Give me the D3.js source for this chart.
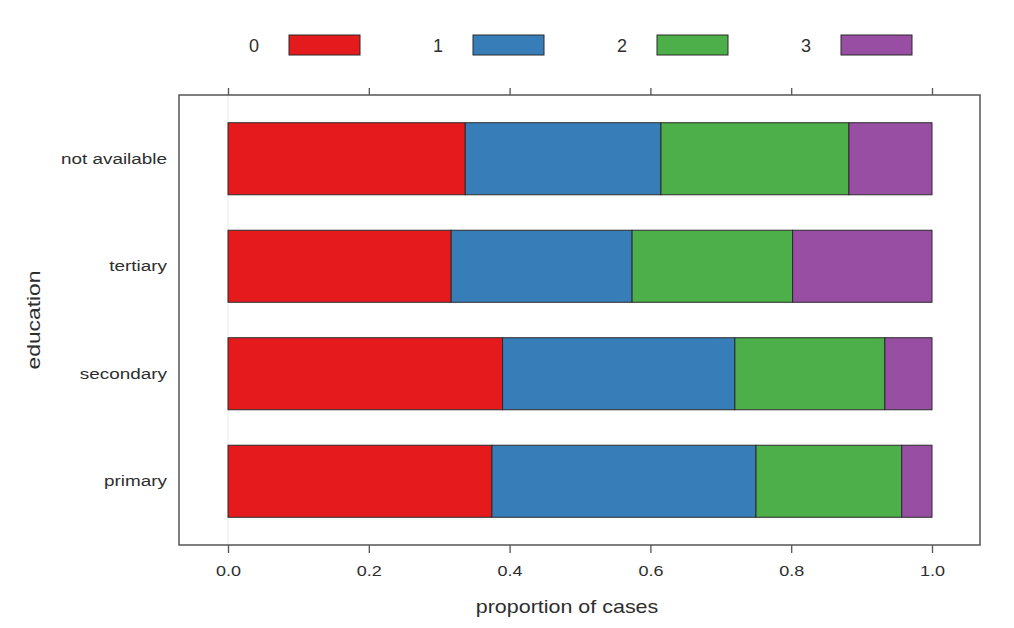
<!DOCTYPE html>
<html>
<head>
<meta charset="utf-8">
<script src="https://cdn.jsdelivr.net/npm/d3@7"></script>
<style>
  html, body { margin: 0; padding: 0; background: #fff; }
  svg { display: block; font-family: "Liberation Sans", Arial, sans-serif; }
</style>
</head>
<body>
<svg id="chart" width="1014" height="628"></svg>
<script>
// Data
const categories = ["primary", "secondary", "tertiary", "not available"];
const seriesKeys = ["0", "1", "2", "3"];
const series0 = [0.375, 0.390, 0.317, 0.337];
const series1 = [0.375, 0.330, 0.257, 0.278];
const series2 = [0.207, 0.213, 0.228, 0.267];
const series3 = [0.043, 0.067, 0.198, 0.118];
const xTicks = [0, 0.2, 0.4, 0.6, 0.8, 1.0];
const colors = ["#E41A1C", "#377EB8", "#4DAF4A", "#984EA3"];

const rows = categories.map((c, i) => ({
  cat: c, "0": series0[i], "1": series1[i], "2": series2[i], "3": series3[i]
}));
const stacked = d3.stack().keys(seriesKeys)(rows);

const svg = d3.select("#chart");
const panel = { left: 179, right: 980, top: 95, bottom: 545 };
const textCol = "#2e2e2e";

const x = d3.scaleLinear().domain([0, 1]).range([228, 932]);
const y = d3.scaleBand().domain(categories.slice().reverse())
  .range([105, 535]).paddingInner(0.33).paddingOuter(0.165);

// faint reference line at 0
svg.append("line")
  .attr("x1", x(0)).attr("x2", x(0))
  .attr("y1", panel.top).attr("y2", panel.bottom)
  .attr("stroke", "#ececec").attr("stroke-width", 1);

// bars
svg.append("g").selectAll("g").data(stacked).join("g")
  .attr("fill", (d, i) => colors[i])
  .selectAll("rect").data(d => d).join("rect")
  .attr("x", d => x(d[0]))
  .attr("width", d => x(d[1]) - x(d[0]))
  .attr("y", d => y(d.data.cat))
  .attr("height", y.bandwidth())
  .attr("stroke", "#2a2a2a").attr("stroke-width", 1);

// panel box
svg.append("rect")
  .attr("x", panel.left).attr("y", panel.top)
  .attr("width", panel.right - panel.left).attr("height", panel.bottom - panel.top)
  .attr("fill", "none").attr("stroke", "#555").attr("stroke-width", 1.5);

// bottom axis
const tickSx = 1.2;
const bottomAxis = d3.axisBottom(x).tickValues(xTicks).tickFormat(d3.format(".1f"))
  .tickSize(8).tickPadding(12);
const gb = svg.append("g").attr("transform", `translate(0,${panel.bottom})`).call(bottomAxis);
gb.select(".domain").remove();
gb.selectAll("line").attr("stroke", "#555").attr("stroke-width", 1.3);
gb.selectAll("text").attr("font-size", 15).attr("fill", textCol)
  .attr("font-family", "Liberation Sans, Arial, sans-serif")
  .attr("transform", `scale(${tickSx},1)`);

// top axis (ticks only)
const topAxis = d3.axisTop(x).tickValues(xTicks).tickSize(7).tickFormat("");
const gt = svg.append("g").attr("transform", `translate(0,${panel.top})`).call(topAxis);
gt.select(".domain").remove();
gt.selectAll("line").attr("stroke", "#555").attr("stroke-width", 1.3);

// y labels
const ySx = 1.26;
const yAxis = d3.axisLeft(y).tickSize(0).tickPadding(12);
const gy = svg.append("g").attr("transform", `translate(${panel.left},0)`).call(yAxis);
gy.select(".domain").remove();
gy.selectAll("text").attr("font-size", 15).attr("fill", textCol)
  .attr("font-family", "Liberation Sans, Arial, sans-serif")
  .attr("x", -12 / ySx)
  .attr("transform", `scale(${ySx},1)`);

// axis titles
svg.append("text")
  .attr("transform", `translate(567,613) scale(1.13,1)`)
  .attr("text-anchor", "middle").attr("font-size", 19).attr("fill", textCol)
  .text("proportion of cases");
svg.append("text")
  .attr("transform", `translate(40,${(panel.top + panel.bottom) / 2}) rotate(-90) scale(1.2,1)`)
  .attr("text-anchor", "middle").attr("font-size", 19).attr("fill", textCol)
  .text("education");

// legend
const legend = svg.append("g").selectAll("g").data(seriesKeys).join("g")
  .attr("transform", (d, i) => `translate(${254 + i * 184},0)`);
legend.append("text").attr("x", 0).attr("y", 52)
  .attr("text-anchor", "middle").attr("font-size", 18).attr("fill", textCol)
  .text(d => d);
legend.append("rect").attr("x", 35).attr("y", 35).attr("width", 71).attr("height", 20)
  .attr("fill", (d, i) => colors[i]).attr("stroke", "#2a2a2a").attr("stroke-width", 1);
</script>
</body>
</html>
